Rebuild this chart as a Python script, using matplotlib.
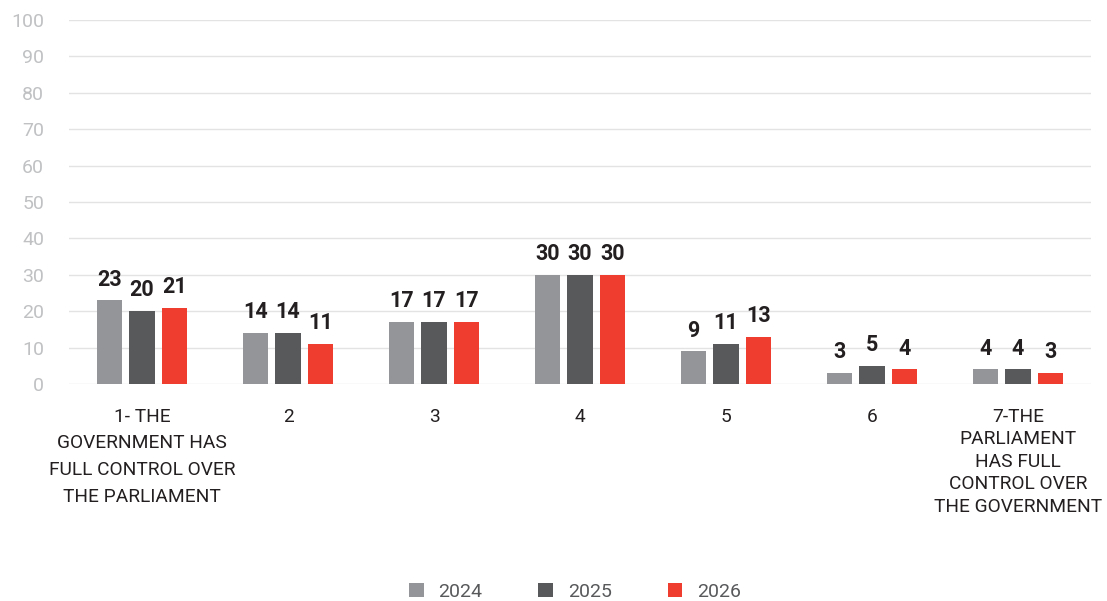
import matplotlib
matplotlib.use("Agg")
import matplotlib.pyplot as plt
import numpy as np

categories = [
    "1- THE\nGOVERNMENT HAS\nFULL CONTROL OVER\nTHE PARLIAMENT",
    "2", "3", "4", "5", "6",
    "7-THE\nPARLIAMENT\nHAS FULL\nCONTROL OVER\nTHE GOVERNMENT",
]
years = ["2024", "2025", "2026"]
values_2024 = [23, 14, 17, 30, 9, 3, 4]
values_2025 = [20, 14, 17, 30, 11, 5, 4]
values_2026 = [21, 11, 17, 30, 13, 4, 3]
y_ticks = [0, 10, 20, 30, 40, 50, 60, 70, 80, 90, 100]

colors = ["#939598", "#58595b", "#ef3e2f"]

plt.rcParams["font.family"] = ["Roboto", "DejaVu Sans"]

fig = plt.figure(figsize=(11.07, 6.01), dpi=100)
ax = fig.add_axes([69 / 1107, 1 - 384 / 601, 1022 / 1107, 364 / 601])

x = np.arange(len(categories))
width = 0.172
step = 0.222
series = [values_2024, values_2025, values_2026]
for i, (vals, col, yr) in enumerate(zip(series, colors, years)):
    xs = x + (i - 1) * step
    ax.bar(xs, vals, width=width, color=col, label=yr, zorder=3)
    for xi, v in zip(xs, vals):
        ax.annotate(str(v), (xi, v), xytext=(0, 7), textcoords="offset points",
                    ha="center", va="bottom", fontsize=15.5, fontweight="semibold",
                    color="#231f20")

ax.set_xlim(-0.5, len(categories) - 0.5)
ax.set_ylim(0, 100)
ax.set_yticks(y_ticks)
ax.tick_params(axis="y", length=0, pad=18, labelsize=14, labelcolor="#c0c1c3")
ax.tick_params(axis="x", length=0, pad=17)
ax.set_xticks(x)
ax.set_xticklabels(categories, fontsize=13.8, color="#231f20",
                   linespacing=1.63, va="top")
# the last label is set tighter in the original
ax.get_xticklabels()[-1].set_linespacing(1.33)
ax.grid(axis="y", color="#e3e3e3", linewidth=1, zorder=0)
for s in ax.spines.values():
    s.set_visible(False)

ax.legend(loc="center", bbox_to_anchor=(575 / 1107, 1 - 592 / 601),
          bbox_transform=fig.transFigure, ncol=3, frameon=False,
          fontsize=14, handlelength=0.75, handleheight=0.75,
          columnspacing=2.9, handletextpad=0.75, labelcolor="#58595b")

fig.savefig("out.png", dpi=100)
